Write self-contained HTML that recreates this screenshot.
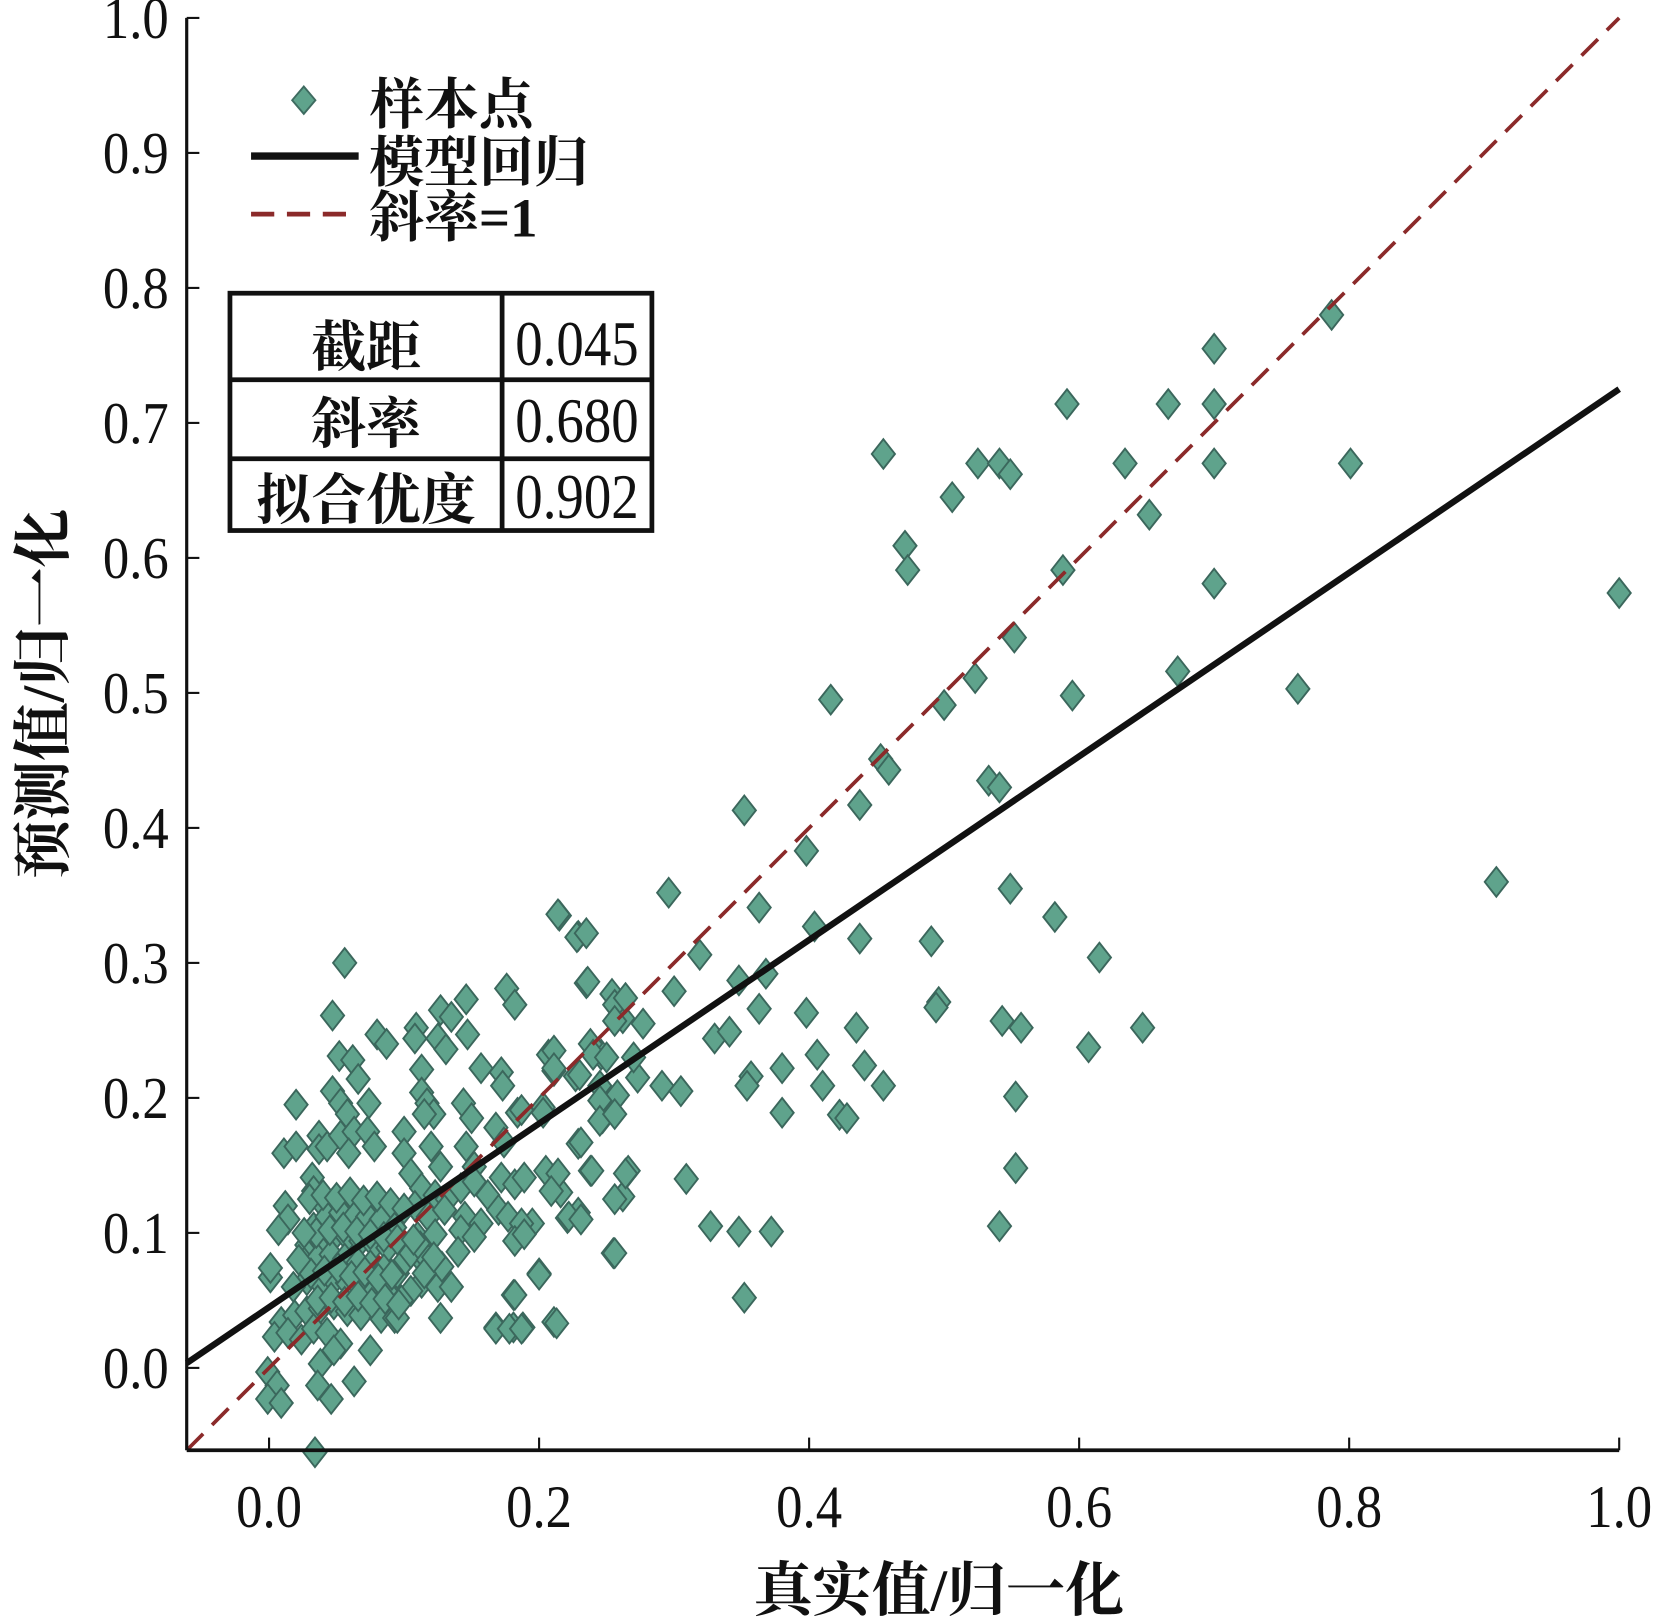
<!DOCTYPE html>
<html><head><meta charset="utf-8"><style>
html,body{margin:0;padding:0;background:#fff;}
svg{display:block;}
text{font-family:"Liberation Serif","Noto Serif CJK SC",serif;fill:#111;}
.cj{font-weight:bold;}
</style></head><body>
<svg id="chart" width="1654" height="1619" viewBox="0 0 1568 1535" preserveAspectRatio="none" xmlns="http://www.w3.org/2000/svg">
<g id="points"></g>
<g id="lines"></g>
<g id="axes"></g>
<g>
  <path d="M288,82 L299,95 L288,108 L277,95 Z" fill="#5fa38c" stroke="#3e6b60" stroke-width="1.8"/>
  <text class="cj" x="350" y="117" font-size="52">样本点</text>
  <line x1="238" y1="148" x2="340" y2="148" stroke="#111" stroke-width="7"/>
  <text class="cj" x="350" y="172" font-size="52">模型回归</text>
  <line x1="238" y1="203" x2="340" y2="203" stroke="#8b2a2a" stroke-width="4.5" stroke-dasharray="22,12"/>
  <text class="cj" x="350" y="224" font-size="52">斜率=1</text>
</g>
<g>
  <rect x="218" y="278" width="400" height="225" fill="#fff" stroke="#111" stroke-width="4.5"/>
  <line x1="476" y1="278" x2="476" y2="503" stroke="#111" stroke-width="4.5"/>
  <line x1="218" y1="360" x2="618" y2="360" stroke="#111" stroke-width="4.5"/>
  <line x1="218" y1="435" x2="618" y2="435" stroke="#111" stroke-width="4.5"/>
  <text class="cj" x="347" y="347" font-size="52" text-anchor="middle">截距</text>
  <text transform="translate(547,346) scale(1,1.15)" font-size="52" text-anchor="middle">0.045</text>
  <text class="cj" x="347" y="420" font-size="52" text-anchor="middle">斜率</text>
  <text transform="translate(547,419) scale(1,1.15)" font-size="52" text-anchor="middle">0.680</text>
  <text class="cj" x="347" y="492" font-size="52" text-anchor="middle">拟合优度</text>
  <text transform="translate(547,491) scale(1,1.15)" font-size="52" text-anchor="middle">0.902</text>
</g>
<text class="cj" x="890" y="1527" font-size="56" text-anchor="middle">真实值/归一化</text>
<text class="cj" transform="translate(60,658) rotate(-90)" font-size="56" text-anchor="middle">预测值/归一化</text>
</svg>
<script>
const xTicks = [0.0, 0.2, 0.4, 0.6, 0.8, 1.0];
const xTickLabels = ["0.0","0.2","0.4","0.6","0.8","1.0"];
const yTicks = [0.0,0.1,0.2,0.3,0.4,0.5,0.6,0.7,0.8,0.9,1.0];
const yTickLabels = ["0.0","0.1","0.2","0.3","0.4","0.5","0.6","0.7","0.8","0.9","1.0"];
const domainMin = -0.061, domainMax = 1.0;
const fitIntercept = 0.045;
const fitSlope = 0.680;
const xVals = [1.0,0.909,0.787,0.801,0.762,0.70,0.70,0.70,0.70,0.666,0.634,0.652,0.673,0.591,0.588,0.595,0.525,0.541,0.549,0.506,0.455,0.471,0.473,0.552,0.523,0.500,0.416,0.453,0.459,0.533,0.541,0.4375,0.352,0.398,0.296,0.363,0.549,0.582,0.404,0.4375,0.4905,0.615,0.319,0.215,0.229,0.235,0.348,0.368,0.300,0.496,0.494,0.363,0.398,0.543,0.557,0.647,0.435,0.330,0.341,0.607,0.406,0.441,0.380,0.357,0.354,0.410,0.455,0.291,0.305,0.553,0.380,0.4225,0.428,0.309,0.553,0.541,0.327,0.348,0.372,0.352,0.255,0.266,0.211,0.181,0.168,0.188,0.200,0.181,0.034,
0.254,0.262,0.277,0.273,0.270,0.246,0.238,0.227,0.207,0.211,0.245,0.254,0.247,0.229,0.205,0.238,0.262,0.229,0.221,0.216,0.195,0.203,0.184,
0.056,0.047,0.080,0.087,0.109,0.108,0.127,0.135,0.146,0.147,0.125,0.131,0.176,0.182,0.214,0.228,0.235,0.236,0.256,0.264,0.256,0.052,0.062,0.066,0.113,0.157,0.172,0.173,0.211,0.211,0.230,0.240,0.250,0.258,0.245,0.245,0.256,0.020,0.047,0.053,0.058,0.074,0.113,0.117,0.122,0.115,0.144,0.150,0.187,0.203,0.011,0.020,0.037,0.037,0.043,0.053,0.063,0.059,0.073,0.078,0.100,0.100,0.120,0.127,0.146,0.152,0.168,0.174,0.231,0.239,0.214,0.209,0.256,0.264,0.222,0.231,0.256,0.200,0.182,0.213,0.168,0.178,0.187,0.012,0.014,0.007,0.001,0.001,0.032,0.033,0.041,
0.033,0.043,0.053,0.063,0.073,0.083,0.093,0.028,0.038,0.048,0.058,0.068,0.078,0.088,0.026,0.036,0.046,0.056,0.066,0.075,0.085,0.095,0.028,0.038,0.048,0.058,0.068,0.078,0.088,0.009,0.019,0.028,0.038,0.048,0.058,0.068,0.083,0.093,0.004,0.014,0.024,0.033,0.043,0.053,-0.001,0.006,-0.001,0.009,0.038,0.036,0.046,0.063,0.075,0.048,
0.105,0.113,0.123,0.132,0.142,0.152,0.162,0.172,0.182,0.189,0.108,0.118,0.130,0.145,0.157,0.170,0.177,0.187,0.110,0.123,0.142,0.152,0.182,0.189,0.110,0.140,0.113,0.125,0.135,0.105,0.127,0.095,0.098,
0.030,0.040,0.050,0.060,0.070,0.080,0.090,0.100,0.035,0.045,0.055,0.065,0.075,0.085,0.095,0.031,0.041,0.051,0.061,0.071,0.081,0.091,0.101,0.036,0.046,0.056,0.066,0.076,0.086,0.096,0.105,0.112,0.118,0.128,0.107,0.115,0.122,0.018,0.022,0.026];
const yVals = [0.574,0.360,0.780,0.670,0.503,0.755,0.714,0.670,0.581,0.714,0.670,0.632,0.516,0.714,0.591,0.498,0.670,0.670,0.662,0.645,0.677,0.609,0.591,0.541,0.511,0.491,0.495,0.451,0.443,0.435,0.430,0.417,0.413,0.383,0.352,0.341,0.355,0.334,0.327,0.318,0.316,0.304,0.306,0.335,0.320,0.285,0.287,0.292,0.279,0.271,0.267,0.266,0.263,0.257,0.252,0.252,0.252,0.244,0.249,0.2375,0.232,0.224,0.222,0.216,0.209,0.209,0.209,0.209,0.205,0.201,0.189,0.1875,0.185,0.140,0.148,0.105,0.105,0.101,0.101,0.052,0.085,0.146,0.034,0.030,0.030,0.030,0.070,0.054,-0.0625,
0.277,0.259,0.255,0.215,0.230,0.232,0.240,0.216,0.232,0.220,0.209,0.197,0.185,0.166,0.146,0.146,0.127,0.115,0.111,0.130,0.107,0.193,0.189,
0.300,0.261,0.247,0.240,0.252,0.244,0.265,0.260,0.273,0.247,0.244,0.236,0.281,0.269,0.336,0.319,0.322,0.286,0.269,0.274,0.257,0.231,0.228,0.214,0.221,0.222,0.219,0.209,0.235,0.222,0.217,0.232,0.230,0.202,0.198,0.183,0.188,0.195,0.205,0.196,0.188,0.196,0.204,0.196,0.188,0.188,0.196,0.185,0.191,0.189,0.159,0.164,0.172,0.162,0.164,0.172,0.175,0.159,0.175,0.164,0.175,0.159,0.164,0.149,0.164,0.149,0.178,0.167,0.167,0.146,0.144,0.131,0.125,0.144,0.112,0.110,0.085,0.069,0.054,0.033,0.029,0.029,0.029,0.120,0.110,0.102,0.067,0.074,0.141,0.131,0.120,
0.104,0.112,0.115,0.112,0.112,0.110,0.104,0.091,0.094,0.097,0.097,0.094,0.091,0.089,0.078,0.081,0.084,0.081,0.078,0.076,0.073,0.070,0.065,0.063,0.065,0.063,0.060,0.057,0.055,0.034,0.039,0.042,0.044,0.047,0.042,0.039,0.037,0.037,0.023,0.026,0.021,0.029,0.026,0.018,-0.003,-0.013,-0.023,-0.026,0.003,-0.013,-0.023,-0.010,0.013,0.013,
0.144,0.133,0.128,0.125,0.133,0.138,0.128,0.141,0.136,0.141,0.120,0.112,0.117,0.112,0.107,0.117,0.112,0.107,0.097,0.099,0.102,0.097,0.094,0.099,0.084,0.086,0.063,0.060,0.060,0.057,0.037,0.037,0.050,
0.125,0.128,0.126,0.130,0.124,0.127,0.122,0.118,0.100,0.102,0.104,0.101,0.099,0.097,0.095,0.070,0.072,0.074,0.068,0.071,0.066,0.069,0.080,0.050,0.052,0.049,0.053,0.048,0.051,0.047,0.085,0.090,0.080,0.075,0.095,0.070,0.082,0.060,0.080,0.100];

const NS = "http://www.w3.org/2000/svg";
const L = 177, R = 1535, T = 17, B = 1375;
function sx(v){ return L + (v - domainMin) / (domainMax - domainMin) * (R - L); }
function sy(v){ return B - (v - domainMin) / (domainMax - domainMin) * (B - T); }
function mk(tag, attrs){ const e = document.createElementNS(NS, tag); for (const k in attrs) e.setAttribute(k, attrs[k]); return e; }

const gp = document.getElementById('points');
for (let i = 0; i < xVals.length; i++) {
  const cx = sx(xVals[i]), cy = sy(yVals[i]);
  const p = mk('path', {d:`M${cx},${cy-14} L${cx+11},${cy} L${cx},${cy+14} L${cx-11},${cy} Z`, fill:'#5fa38c', stroke:'#3b675c', 'stroke-width':'1.8'});
  
  
  gp.appendChild(p);
}

const gl = document.getElementById('lines');
const ref = mk('line', {x1:sx(domainMin), y1:sy(domainMin), x2:sx(domainMax), y2:sy(domainMax), stroke:'#8b2a2a', 'stroke-width':'3.5', 'stroke-dasharray':'22,12'});


gl.appendChild(ref);
const fit = mk('line', {x1:sx(domainMin), y1:sy(fitIntercept + fitSlope*domainMin), x2:sx(domainMax), y2:sy(fitIntercept + fitSlope*domainMax), stroke:'#111', 'stroke-width':'6'});


gl.appendChild(fit);

const ga = document.getElementById('axes');
const xa = mk('line', {x1:L, y1:B, x2:R, y2:B, stroke:'#111', 'stroke-width':'3.5'});


ga.appendChild(xa);
const ya = mk('line', {x1:L, y1:T, x2:L, y2:B, stroke:'#111', 'stroke-width':'3'});


ga.appendChild(ya);
xTicks.forEach((v, i) => {
  const x = sx(v);
  const t = mk('line', {x1:x, y1:B, x2:x, y2:B-12, stroke:'#111', 'stroke-width':'2'});
  
  
  ga.appendChild(t);
  const lb = mk('text', {transform:`translate(${x},1448) scale(1,1.15)`, 'font-size':'50', 'text-anchor':'middle'});
  lb.textContent = xTickLabels[i];
  
  
  ga.appendChild(lb);
});
yTicks.forEach((v, i) => {
  const y = sy(v);
  const t = mk('line', {x1:L, y1:y, x2:L+12, y2:y, stroke:'#111', 'stroke-width':'2'});
  
  
  ga.appendChild(t);
  const lb = mk('text', {transform:`translate(160,${y+19}) scale(1,1.12)`, 'font-size':'50', 'text-anchor':'end'});
  lb.textContent = yTickLabels[i];
  
  
  ga.appendChild(lb);
});
</script>
</body></html>
